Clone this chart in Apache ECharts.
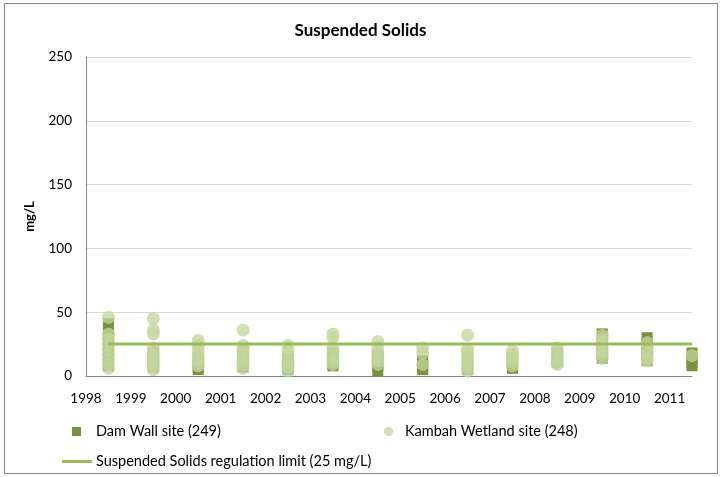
<!DOCTYPE html>
<html>
<head>
<meta charset="utf-8">
<script src="https://cdn.jsdelivr.net/npm/echarts@6/dist/echarts.min.js"></script>
<style>
html, body { margin: 0; padding: 0; background: #fff; }
#chart { width: 721px; height: 477px; }
</style>
</head>
<body>
<div id="chart"></div>
<script>
// sampling years (plotted mid-year)
var years = [1998, 1999, 2000, 2001, 2002, 2003, 2004, 2005, 2006, 2007, 2008, 2009, 2010, 2011];

// Dam Wall site readings per year (mg/L)
var damWall = [
    [41, 37, 33, 28, 24, 20, 16, 12, 8],
    [18, 14, 10, 7],
    [14, 10, 7, 5],
    [20, 15, 11, 7],
    [13, 9, 5],
    [18, 14, 10, 8],
    [16, 12, 8, 4],
    [12, 9, 6, 5],
    [14, 9, 5],
    [14, 10, 7, 6],
    [18, 13, 11],
    [33, 28, 22, 17, 14],
    [30, 25, 20, 15, 12],
    [18, 14, 10, 8]
];

// Kambah Wetland site readings per year (mg/L)
var kambah = [
    [46, 33, 29, 25, 21, 17, 13, 9, 6],
    [45, 36, 33, 22, 19, 16, 13, 10, 7, 5],
    [28, 24, 20, 16, 13, 10, 8],
    [36, 24, 21, 18, 15, 12, 9, 6],
    [24, 20, 16, 13, 10, 7, 4],
    [33, 30, 22, 18, 14, 11, 9],
    [27, 22, 18, 15, 12, 9],
    [22, 18, 9],
    [32, 21, 18, 15, 12, 9, 6, 4],
    [20, 17, 14, 11, 8],
    [22, 19, 16, 13, 10, 9],
    [32, 29, 26, 23, 20, 17, 14],
    [26, 22, 18, 14, 12],
    [16]
];

var regLimit = 25;
var regStart = 1998.5, regEnd = 2011.5;

function toPoints(rows) {
    var out = [];
    for (var i = 0; i < rows.length; i++) {
        for (var j = 0; j < rows[i].length; j++) {
            out.push([years[i] + 0.5, rows[i][j]]);
        }
    }
    return out;
}

var font = 'Lato';
var myChart = echarts.init(document.getElementById('chart'));

var option = {
    animation: false,
    textStyle: { fontFamily: font },
    title: {
        text: 'Suspended Solids',
        left: 'center',
        top: 17,
        textStyle: { fontFamily: font, fontSize: 17, fontWeight: 'bold', color: '#000' }
    },
    graphic: [{
        type: 'rect',
        shape: { x: 4.5, y: 3.5, width: 713, height: 470 },
        style: { fill: 'none', stroke: '#868686', lineWidth: 1 },
        silent: true
    }],
    grid: { left: 86, right: 29, top: 57, bottom: 101 },
    legend: [{
        left: 67, top: 419,
        itemWidth: 9, itemHeight: 9,
        icon: 'rect',
        data: ['Dam Wall site (249)'],
        textStyle: { fontFamily: font, fontSize: 14.5, color: '#000', padding: [0, 0, 0, 10] }
    }, {
        left: 379, top: 419,
        itemWidth: 9, itemHeight: 9,
        icon: 'circle',
        data: ['Kambah Wetland site (248)'],
        textStyle: { fontFamily: font, fontSize: 14.5, color: '#000', padding: [0, 0, 0, 7] }
    }, {
        left: 57, top: 449,
        itemWidth: 30, itemHeight: 3,
        icon: 'rect',
        data: ['Suspended Solids regulation limit (25 mg/L)'],
        textStyle: { fontFamily: font, fontSize: 14.5, color: '#000', padding: [0, 0, 0, -1] }
    }],
    xAxis: {
        type: 'value',
        min: 1998,
        max: 2011.5,
        interval: 1,
        splitLine: { show: false },
        axisTick: { show: false },
        axisLine: { lineStyle: { color: '#868686' } },
        axisLabel: {
            margin: 16,
            fontSize: 13.5,
            color: '#000',
            showMaxLabel: false,
            formatter: function (v) { return v % 1 === 0 ? String(v) : ''; }
        }
    },
    yAxis: {
        type: 'value',
        min: 0,
        max: 250,
        interval: 50,
        name: 'mg/L',
        nameLocation: 'middle',
        nameGap: 50,
        nameTextStyle: { fontFamily: font, fontSize: 13, fontWeight: 'bold', color: '#000' },
        axisLine: { show: true, lineStyle: { color: '#868686' } },
        axisTick: { show: false },
        splitLine: { lineStyle: { color: '#d9d9d9', width: 1 } },
        axisLabel: { margin: 14, fontSize: 13.5, color: '#000' }
    },
    series: [{
        name: 'Dam Wall site (249)',
        type: 'scatter',
        symbol: 'rect',
        symbolSize: 11,
        itemStyle: { color: '#77933c', opacity: 1 },
        data: toPoints(damWall)
    }, {
        name: 'Kambah Wetland site (248)',
        type: 'scatter',
        symbol: 'circle',
        symbolSize: 13,
        itemStyle: { color: 'rgba(195,214,155,0.95)' },
        data: toPoints(kambah)
    }, {
        name: 'Suspended Solids regulation limit (25 mg/L)',
        type: 'line',
        symbol: 'none',
        color: '#9bbb59',
        lineStyle: { width: 3, color: '#9bbb59' },
        data: [[regStart, regLimit], [regEnd, regLimit]]
    }]
};

myChart.setOption(option);
</script>
</body>
</html>
